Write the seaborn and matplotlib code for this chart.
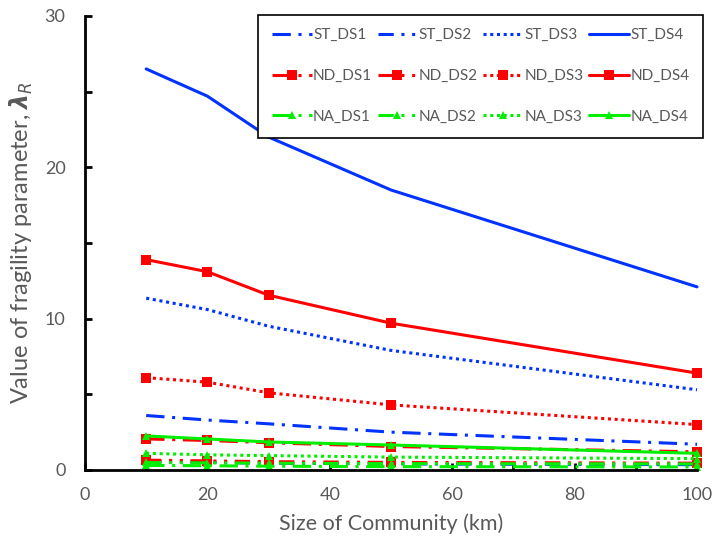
import matplotlib
matplotlib.use("Agg")
import matplotlib.pyplot as plt
import seaborn as sns
import pandas as pd
from matplotlib.ticker import MultipleLocator

# Community size (km)
community_size = [10, 20, 30, 50, 100]

# Fragility parameter lambda_R for each hazard / damage state
st_ds1 = [3.6, 3.3, 3.05, 2.5, 1.7]
st_ds2 = [0.55, 0.5, 0.45, 0.4, 0.35]
st_ds3 = [11.35, 10.6, 9.5, 7.9, 5.3]
st_ds4 = [26.5, 24.7, 22.0, 18.5, 12.1]

nd_ds1 = [2.05, 1.95, 1.8, 1.55, 1.2]
nd_ds2 = [0.65, 0.6, 0.55, 0.5, 0.45]
nd_ds3 = [6.1, 5.8, 5.1, 4.3, 3.0]
nd_ds4 = [13.9, 13.1, 11.55, 9.7, 6.4]

na_ds1 = [0.3, 0.28, 0.25, 0.22, 0.2]
na_ds2 = [0.5, 0.47, 0.45, 0.42, 0.4]
na_ds3 = [1.1, 1.0, 0.95, 0.85, 0.75]
na_ds4 = [2.25, 2.05, 1.85, 1.65, 1.1]

series_names = ["ST_DS1", "ST_DS2", "ST_DS3", "ST_DS4",
                "ND_DS1", "ND_DS2", "ND_DS3", "ND_DS4",
                "NA_DS1", "NA_DS2", "NA_DS3", "NA_DS4"]
series_values = [st_ds1, st_ds2, st_ds3, st_ds4,
                 nd_ds1, nd_ds2, nd_ds3, nd_ds4,
                 na_ds1, na_ds2, na_ds3, na_ds4]

group_color = {"ST": "#0033FF", "ND": "#FF0000", "NA": "#00EE00"}
group_marker = {"ST": None, "ND": "s", "NA": "^"}
group_msize = {"ST": 0, "ND": 7, "NA": 6}
ds_style = {
    "DS1": (0, (6, 2.5, 1, 2.5)),
    "DS2": (0, (5, 2.5, 1, 2.5, 1, 2.5)),
    "DS3": (0, (1, 1.2)),
    "DS4": "-",
}

df = pd.DataFrame({
    "size": community_size * len(series_names),
    "value": [v for vals in series_values for v in vals],
    "series": [n for n in series_names for _ in community_size],
})

sns.set_style("white")
plt.rcParams["font.family"] = ["Lato", "DejaVu Sans"]
plt.rcParams["mathtext.fontset"] = "custom"
plt.rcParams["mathtext.rm"] = "DejaVu Sans"
plt.rcParams["mathtext.it"] = "DejaVu Sans:italic"
plt.rcParams["mathtext.bf"] = "DejaVu Sans:italic:bold"

fig = plt.figure(figsize=(7.16, 5.5), dpi=100)
ax = fig.add_axes([0.1187, 0.1455, 0.8548, 0.8255])

handles = {}
for name in series_names:
    grp, ds = name.split("_")
    sub = df[df["series"] == name]
    sns.lineplot(data=sub, x="size", y="value", ax=ax,
                 color=group_color[grp], linestyle=ds_style[ds],
                 linewidth=2.2, marker=group_marker[grp],
                 markersize=group_msize[grp], markeredgewidth=0,
                 label=name, legend=False, clip_on=False)
    handles[name] = ax.get_lines()[-1]

ax.set_xlim(0, 100)
ax.set_ylim(0, 30)
ax.xaxis.set_major_locator(MultipleLocator(20))
ax.xaxis.set_minor_locator(MultipleLocator(10))
ax.yaxis.set_major_locator(MultipleLocator(10))
ax.yaxis.set_minor_locator(MultipleLocator(5))

for side in ["top", "right"]:
    ax.spines[side].set_visible(False)
for side in ["left", "bottom"]:
    ax.spines[side].set_color("black")
    ax.spines[side].set_linewidth(2)

gray = "#595959"
ax.tick_params(axis="both", which="both", direction="in", length=5,
               width=2, color="black", labelcolor=gray, labelsize=13,
               left=True, bottom=True)
ax.tick_params(axis="x", pad=12)
ax.tick_params(axis="y", pad=14)

ax.set_xlabel("Size of Community (km)", fontsize=15.5, color=gray, labelpad=8)
ax.set_ylabel(r"Value of fragility parameter, $\mathbf{\lambda}_{\mathit{R}}$",
              fontsize=17, color=gray, labelpad=7)

# legend laid out row by row: ST, ND, NA
order = []
for ds in ["DS1", "DS2", "DS3", "DS4"]:
    for grp in ["ST", "ND", "NA"]:
        order.append(f"{grp}_{ds}")
leg = ax.legend([handles[n] for n in order], order, ncol=4,
                loc="upper right", bbox_to_anchor=(1.01, 1.003),
                fontsize=11, frameon=True, fancybox=False,
                edgecolor="black", framealpha=1, handlelength=2.6,
                handletextpad=0.1, columnspacing=0.35, labelspacing=1.75,
                borderpad=0.9, borderaxespad=0)
leg.get_frame().set_linewidth(1.2)
for t in leg.get_texts():
    t.set_color(gray)

fig.savefig("out.png", dpi=100)
